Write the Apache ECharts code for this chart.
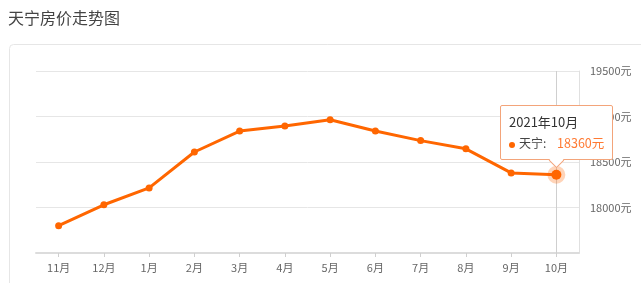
<!DOCTYPE html>
<html>
<head>
<meta charset="utf-8">
<script src="https://cdn.jsdelivr.net/npm/echarts@6/dist/echarts.min.js"></script>
<style>
html,body{margin:0;padding:0;background:#fff;}
#c{width:641px;height:283px;}
.tipbox{overflow:visible !important;}
.tipbox::after{content:"";position:absolute;left:50%;bottom:-7px;margin-left:-6px;width:10px;height:10px;background:#fff;border-right:1px solid #f3a47a;border-bottom:1px solid #f3a47a;transform:rotate(45deg);}
</style>
</head>
<body>
<div id="c"></div>
<script>
var categories = ['11月','12月','1月','2月','3月','4月','5月','6月','7月','8月','9月','10月'];
var values = [17800, 18030, 18215, 18610, 18840, 18895, 18965, 18840, 18735, 18645, 18380, 18360];
var tipTitle = '2021年10月';
var seriesName = '天宁';
var chartTitle = '天宁房价走势图';

var font = '"Noto Sans CJK SC", "Noto Sans", sans-serif';
var chart = echarts.init(document.getElementById('c'));
var last = values.length - 1;
var data = values.map(function (v, i) {
  if (i === last) {
    return {value: v, symbolSize: 10, itemStyle: {color: '#ff6600', borderColor: 'rgba(255,102,0,0.28)', borderWidth: 8}};
  }
  return v;
});
chart.setOption({
  animation: false,
  textStyle: {fontFamily: font},
  title: {text: chartTitle, left: 3, top: 5, textStyle: {fontSize: 16, fontWeight: 'normal', color: '#444', fontFamily: font}},
  graphic: [{type: 'rect', left: 9, top: 44, shape: {width: 700, height: 300, r: 4}, style: {fill: '#fff', stroke: '#e6e6e6', lineWidth: 1}, z: -10}],
  grid: {left: 36, right: 62, top: 71, bottom: 30},
  tooltip: {
    trigger: 'axis',
    alwaysShowContent: true,
    className: 'tipbox',
    backgroundColor: '#fff',
    borderColor: '#f3a47a',
    borderWidth: 1,
    borderRadius: 2,
    padding: [7, 8, 7, 8],
    extraCssText: 'box-shadow:none;',
    axisPointer: {type: 'line', lineStyle: {color: '#cfcfcf', width: 1, type: 'solid'}, z: 1},
    position: function (point, params, dom, rect, size) {
      var p = chart.convertToPixel({seriesIndex: 0}, [last, values[last]]);
      return [p[0] - size.contentSize[0] / 2, p[1] - size.contentSize[1] - 15];
    },
    formatter: function (params) {
      var p = params[0];
      var ff = font.replace(/"/g, "'");
      return '<div style="font-family:' + ff + ';font-size:13px;color:#333;line-height:18px;">' + tipTitle + '</div>' +
        '<div style="font-family:' + ff + ';font-size:12px;color:#444;line-height:18px;margin-top:3px;">' +
        '<span style="display:inline-block;width:6px;height:6px;border-radius:3px;background:#ff6600;margin-right:4px;vertical-align:middle;"></span>' +
        seriesName + ':&nbsp;&nbsp;&nbsp;&nbsp;<span style="color:#ff7a33;font-size:12.5px;">' + p.value + '元</span></div>';
    }
  },
  xAxis: {
    type: 'category',
    data: categories,
    boundaryGap: true,
    axisLine: {show: true, lineStyle: {color: '#dcdcdc', width: 2}},
    axisTick: {show: true, alignWithLabel: true, length: 4, lineStyle: {color: '#cfcfcf'}},
    axisLabel: {color: '#666', fontSize: 11, margin: 9, fontFamily: font}
  },
  yAxis: {
    type: 'value',
    position: 'right',
    min: 17500,
    max: 19500,
    interval: 500,
    axisLine: {show: true, lineStyle: {color: '#e0e0e0', width: 1}},
    axisTick: {show: false},
    axisLabel: {color: '#666', fontSize: 11, margin: 11, showMinLabel: false, formatter: function (v) { return v + '元'; }, fontFamily: font},
    splitLine: {show: true, lineStyle: {color: '#e6e6e6', width: 1}}
  },
  series: [{
    name: seriesName,
    type: 'line',
    data: data,
    symbol: 'circle',
    symbolSize: 7,
    itemStyle: {color: '#ff6600'},
    lineStyle: {color: '#ff6600', width: 3},
    emphasis: {scale: false, disabled: true},
    z: 3
  }]
});
chart.dispatchAction({type: 'showTip', seriesIndex: 0, dataIndex: last});
</script>
</body>
</html>
